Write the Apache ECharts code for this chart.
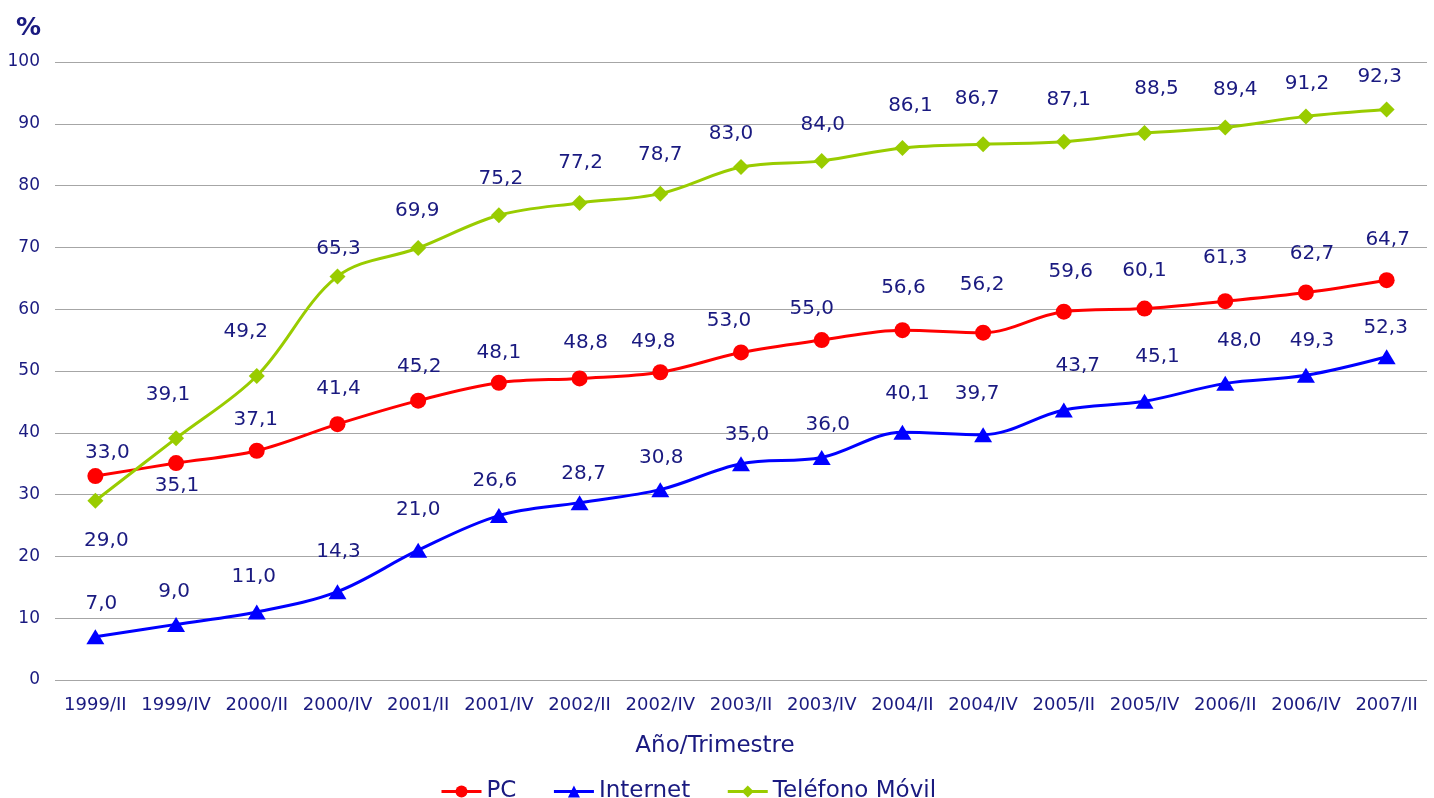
<!DOCTYPE html>
<html>
<head>
<meta charset="utf-8">
<script src="https://cdn.jsdelivr.net/npm/echarts@6/dist/echarts.min.js"></script>
<style>
html,body{margin:0;padding:0;background:#fff;}
#chart{width:1434px;height:798px;}
</style>
</head>
<body>
<div id="chart"></div>
<script>
// ---- data ----
const categories = ['1999/II','1999/IV','2000/II','2000/IV','2001/II','2001/IV','2002/II','2002/IV','2003/II','2003/IV','2004/II','2004/IV','2005/II','2005/IV','2006/II','2006/IV','2007/II'];
const pcValues = [33.0,35.1,37.1,41.4,45.2,48.1,48.8,49.8,53.0,55.0,56.6,56.2,59.6,60.1,61.3,62.7,64.7];
const internetValues = [7.0,9.0,11.0,14.3,21.0,26.6,28.7,30.8,35.0,36.0,40.1,39.7,43.7,45.1,48.0,49.3,52.3];
const movilValues = [29.0,39.1,49.2,65.3,69.9,75.2,77.2,78.7,83.0,84.0,86.1,86.7,87.1,88.5,89.4,91.2,92.3];
const seriesNames = ['PC','Internet','Teléfono Móvil'];
const yTicks = [0,10,20,30,40,50,60,70,80,90,100];

// ---- label placement (style: nudges of each value label from its marker, px) ----
const pcLabelNudge = [[12,-23],[1,23],[-1,-31],[1,-35],[1,-34],[0,-30],[6,-36],[-7,-30],[-12,-32],[-10,-31],[1,-42],[-1,-48],[7,-40],[0,-38],[0,-43],[6,-39],[1,-40]];
const internetLabelNudge = [[6,-33],[-2,-33],[-3,-35],[1,-40],[0,-40],[-4,-35],[4,-29],[1,-32],[6,-29],[6,-33],[5,-38],[-6,-41],[14,-44],[13,-44],[14,-43],[6,-35],[-1,-29]];
const movilLabelNudge = [[11,40],[-8,-44],[-11,-44],[1,-28],[-1,-37],[2,-36],[1,-40],[0,-39],[-10,-33],[1,-36],[8,-42],[-6,-45],[5,-42],[12,-44],[10,-38],[1,-33],[-7,-33]];

const navy = '#1a1a80';
const font = '"DejaVu Sans", Verdana, sans-serif';

function fmt(v){ return v.toFixed(1).replace('.', ','); }
function buildData(values, nudges){
  return values.map((v,i)=>({
    value: v,
    label: { offset: nudges[i] }
  }));
}
function makeSeries(name, values, nudges, color, symbol, size){
  return {
    name: name,
    type: 'line',
    data: buildData(values, nudges),
    smooth: 0.35,
    symbol: symbol,
    symbolSize: size,
    showAllSymbol: true,
    lineStyle: { color: color, width: 3 },
    itemStyle: { color: color },
    label: {
      show: true,
      position: 'inside',
      color: navy,
      fontFamily: font,
      fontSize: 20,
      formatter: p => fmt(p.value)
    },
    emphasis: { disabled: true },
    animation: false
  };
}

const chart = echarts.init(document.getElementById('chart'), null, {renderer:'canvas'});
chart.setOption({
  backgroundColor: '#ffffff',
  animation: false,
  title: {
    text: '%',
    left: 11,
    top: 11,
    textStyle: { color: navy, fontFamily: font, fontSize: 25, fontWeight: 'bold' }
  },
  grid: { left: 55, right: 7, top: 62, bottom: 118 },
  legend: {
    data: seriesNames,
    left: 435,
    top: 775,
    itemWidth: 40,
    itemHeight: 15,
    itemGap: 36,
    lineStyle: { width: 3 },
    textStyle: { color: navy, fontFamily: font, fontSize: 23 }
  },
  xAxis: {
    type: 'category',
    data: categories,
    boundaryGap: true,
    name: 'Año/Trimestre',
    nameLocation: 'middle',
    nameGap: 55,
    nameTextStyle: { color: navy, fontFamily: font, fontSize: 23, padding: [0, 52, 0, 0] },
    axisLine: { show: false },
    axisTick: { show: false },
    axisLabel: { color: navy, fontFamily: font, fontSize: 18, margin: 16, interval: 0 }
  },
  yAxis: {
    type: 'value',
    min: yTicks[0],
    max: yTicks[yTicks.length-1],
    interval: 10,
    axisLine: { show: false },
    axisTick: { show: false },
    axisLabel: { color: navy, fontFamily: font, fontSize: 17, margin: 15 },
    splitLine: { lineStyle: { color: '#a6a6a6', width: 1 } }
  },
  series: [
    makeSeries(seriesNames[0], pcValues, pcLabelNudge, '#ff0000', 'circle', 16),
    makeSeries(seriesNames[1], internetValues, internetLabelNudge, '#0000ff', 'triangle', [18, 15]),
    makeSeries(seriesNames[2], movilValues, movilLabelNudge, '#99cc00', 'diamond', 16)
  ]
});
</script>
</body>
</html>
